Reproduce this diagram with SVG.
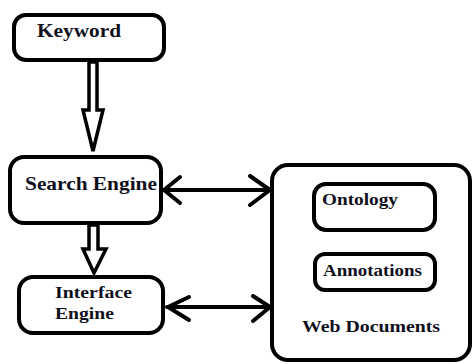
<svg xmlns="http://www.w3.org/2000/svg" width="474" height="364" viewBox="0 0 474 364">
<style>
.box{fill:#fff;stroke:#000;stroke-width:4}
.lbl{font-family:"Liberation Serif","Times New Roman",serif;font-weight:bold;fill:#10101c}
.hollow{fill:#fff;stroke:#000;stroke-width:3.5;stroke-linejoin:miter}
.ln{fill:none;stroke:#000;stroke-width:4;stroke-linecap:round;stroke-linejoin:round}
</style>
<rect width="474" height="364" fill="#fff"/>
<g id="web-documents">
<rect class="box" x="272" y="165" width="198" height="195" rx="16" stroke-width="5"/>
<text class="lbl" x="302" y="332" font-size="17.5" textLength="138" lengthAdjust="spacingAndGlyphs">Web Documents</text>
</g>
<g id="ontology">
<rect class="box" x="314" y="184" width="121" height="46" rx="12"/>
<text class="lbl" x="322" y="205" font-size="17.5" textLength="76" lengthAdjust="spacingAndGlyphs">Ontology</text>
</g>
<g id="annotations">
<rect class="box" x="315" y="254" width="120" height="36" rx="10"/>
<text class="lbl" x="323" y="276" font-size="17.5" textLength="99" lengthAdjust="spacingAndGlyphs">Annotations</text>
</g>
<g id="keyword">
<rect class="box" x="14" y="15" width="150" height="45" rx="12"/>
<text class="lbl" x="37" y="37" font-size="18.5" textLength="84" lengthAdjust="spacingAndGlyphs">Keyword</text>
</g>
<g id="search-engine">
<rect class="box" x="10" y="157" width="151" height="66" rx="14"/>
<text class="lbl" x="25" y="190" font-size="19.5" textLength="132" lengthAdjust="spacingAndGlyphs">Search Engine</text>
</g>
<g id="interface-engine">
<rect class="box" x="19" y="277" width="144" height="56" rx="14"/>
<text class="lbl" x="55" y="298" font-size="16.5" textLength="77" lengthAdjust="spacingAndGlyphs">Interface</text>
<text class="lbl" x="55" y="319" font-size="16.5" textLength="59" lengthAdjust="spacingAndGlyphs">Engine</text>
</g>
<g id="connectors">
<polygon class="hollow" points="89,62 97,62 97,110 103,110 93,151 83,110 89,110"/>
<polygon class="hollow" points="89,225 98,225 98,249 106,249 94,273 83,249 89,249"/>
<line class="ln" x1="164" y1="190" x2="271" y2="190"/>
<polyline class="ln" points="180,177 164,190 180,203"/>
<polyline class="ln" points="250,176 270,190 250,205"/>
<line class="ln" x1="167" y1="307" x2="271" y2="307"/>
<polyline class="ln" points="189,297 168,307 189,320"/>
<polyline class="ln" points="253,296 270,307 253,321"/>
</g>
</svg>
